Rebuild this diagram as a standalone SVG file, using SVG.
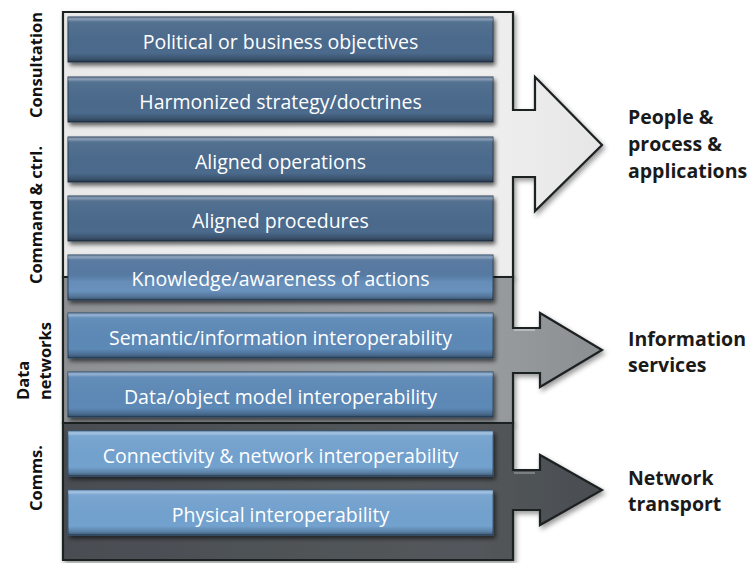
<svg xmlns="http://www.w3.org/2000/svg" width="751" height="563" viewBox="0 0 751 563">
<defs>
<style>
.box text{font-family:"Open Sans","Liberation Sans",sans-serif;font-size:19.5px;fill:#ffffff;text-anchor:middle}
.lbl{font-family:"Open Sans","Liberation Sans",sans-serif;font-size:16.5px;font-weight:bold;fill:#111}
.side{font-family:"Open Sans","Liberation Sans",sans-serif;font-size:19.5px;font-weight:bold;fill:#1a1a1a}
.panel{stroke:#1e2124;stroke-width:2.2;stroke-linejoin:miter}
.bv{fill:url(#bevel)}
.b1{fill:#4b6a8c;stroke:#2c3f55;stroke-width:1}
.b2{fill:url(#gk);stroke:#2c4460;stroke-width:1}
.b3{fill:#5d89b7;stroke:#2f4b69;stroke-width:1}
.b4{fill:#73a2cf;stroke:#3a5a7c;stroke-width:1}
</style>
<linearGradient id="bevel" x1="0" y1="0" x2="0" y2="1">
<stop offset="0" stop-color="#fff" stop-opacity="0.15"/>
<stop offset="0.05" stop-color="#fff" stop-opacity="0.35"/>
<stop offset="0.11" stop-color="#fff" stop-opacity="0.05"/>
<stop offset="0.8" stop-color="#000" stop-opacity="0"/>
<stop offset="0.92" stop-color="#000" stop-opacity="0.2"/>
<stop offset="1" stop-color="#000" stop-opacity="0.45"/>
</linearGradient>
<linearGradient id="gk" x1="0" y1="0" x2="0" y2="1">
<stop offset="0" stop-color="#51729a"/>
<stop offset="0.45" stop-color="#557aa3"/>
<stop offset="0.6" stop-color="#668fba"/>
<stop offset="1" stop-color="#6a94c0"/>
</linearGradient>
<linearGradient id="gl" x1="0" y1="0" x2="1" y2="0">
<stop offset="0" stop-color="#eaeaea"/>
<stop offset="0.7" stop-color="#f2f2f2"/>
<stop offset="1" stop-color="#e6e6e6"/>
</linearGradient>
<linearGradient id="gm" x1="0" y1="0" x2="1" y2="0">
<stop offset="0" stop-color="#8e9194"/>
<stop offset="0.75" stop-color="#9b9ea1"/>
<stop offset="1" stop-color="#8c8f92"/>
</linearGradient>
<linearGradient id="gd" x1="0" y1="0" x2="1" y2="0">
<stop offset="0" stop-color="#4a4e52"/>
<stop offset="0.75" stop-color="#53575b"/>
<stop offset="1" stop-color="#4a4e51"/>
</linearGradient>
<filter id="sh" x="-10%" y="-10%" width="130%" height="130%">
<feDropShadow dx="2" dy="3" stdDeviation="2" flood-color="#000" flood-opacity="0.6"/>
</filter>
<filter id="psh" x="-10%" y="-10%" width="130%" height="130%">
<feDropShadow dx="2" dy="3" stdDeviation="2.5" flood-color="#000" flood-opacity="0.4"/>
</filter>
</defs>
<rect width="751" height="563" fill="#fff"/>

<g id="connectors">
<path id="arrow-people" class="panel" fill="url(#gl)" filter="url(#psh)" d="M63,12 H513 V110 H535 V77 L602,145 L535,211 V177 H513 V277 H63 Z"/>
<path id="arrow-info" class="panel" fill="url(#gm)" filter="url(#psh)" d="M63,277 H513 V328 H540 V313 L602,350 L540,387 V373 H513 V423 H63 Z"/>
<path id="arrow-net" class="panel" fill="url(#gd)" filter="url(#psh)" d="M63,423 H513 V470 H540 V455 L602,490 L540,525 V510 H513 V560 H63 Z"/>
<line x1="514" y1="330" x2="535" y2="330" stroke="#c4c6c8" stroke-width="1.5"/>
<line x1="514" y1="473" x2="535" y2="473" stroke="#8a8e91" stroke-width="1.5"/>
</g>

<g id="box-political" class="box"><rect class="b1" x="68" y="17" width="425" height="45" filter="url(#sh)"/><rect class="bv" x="68" y="17" width="425" height="45"/><text x="280.5" y="49">Political or business objectives</text></g>
<g id="box-harmonized" class="box"><rect class="b1" x="68" y="77" width="425" height="45" filter="url(#sh)"/><rect class="bv" x="68" y="77" width="425" height="45"/><text x="280.5" y="109">Harmonized strategy/doctrines</text></g>
<g id="box-operations" class="box"><rect class="b1" x="68" y="137" width="425" height="45" filter="url(#sh)"/><rect class="bv" x="68" y="137" width="425" height="45"/><text x="280.5" y="169">Aligned operations</text></g>
<g id="box-procedures" class="box"><rect class="b1" x="68" y="196" width="425" height="45" filter="url(#sh)"/><rect class="bv" x="68" y="196" width="425" height="45"/><text x="280.5" y="228">Aligned procedures</text></g>
<g id="box-knowledge" class="box"><rect class="b2" x="68" y="255" width="425" height="45" filter="url(#sh)"/><rect class="bv" x="68" y="255" width="425" height="45"/><text x="280.5" y="286">Knowledge/awareness of actions</text></g>
<g id="box-semantic" class="box"><rect class="b3" x="68" y="313" width="425" height="45" filter="url(#sh)"/><rect class="bv" x="68" y="313" width="425" height="45"/><text x="280.5" y="345">Semantic/information interoperability</text></g>
<g id="box-data" class="box"><rect class="b3" x="68" y="372" width="425" height="45" filter="url(#sh)"/><rect class="bv" x="68" y="372" width="425" height="45"/><text x="280.5" y="404">Data/object model interoperability</text></g>
<g id="box-connectivity" class="box"><rect class="b4" x="68" y="431" width="425" height="45" filter="url(#sh)"/><rect class="bv" x="68" y="431" width="425" height="45"/><text x="280.5" y="463">Connectivity &amp; network interoperability</text></g>
<g id="box-physical" class="box"><rect class="b4" x="68" y="490" width="425" height="45" filter="url(#sh)"/><rect class="bv" x="68" y="490" width="425" height="45"/><text x="280.5" y="522">Physical interoperability</text></g>

<g id="label-consultation"><text class="lbl" transform="translate(42,65) rotate(-90)" text-anchor="middle">Consultation</text></g>
<g id="label-command"><text class="lbl" transform="translate(42,215) rotate(-90)" text-anchor="middle">Command &amp; ctrl.</text></g>
<g id="label-data"><text class="lbl" transform="translate(29,400) rotate(-90)" text-anchor="start">Data</text><text class="lbl" transform="translate(51,400) rotate(-90)" text-anchor="start">networks</text></g>
<g id="label-comms"><text class="lbl" transform="translate(42,478) rotate(-90)" text-anchor="middle">Comms.</text></g>

<g id="out-people"><text class="side" x="628" y="124">People &amp;</text><text class="side" x="628" y="151">process &amp;</text><text class="side" x="628" y="178">applications</text></g>
<g id="out-info"><text class="side" x="628" y="346">Information</text><text class="side" x="628" y="372">services</text></g>
<g id="out-net"><text class="side" x="628" y="485">Network</text><text class="side" x="628" y="511">transport</text></g>
</svg>
